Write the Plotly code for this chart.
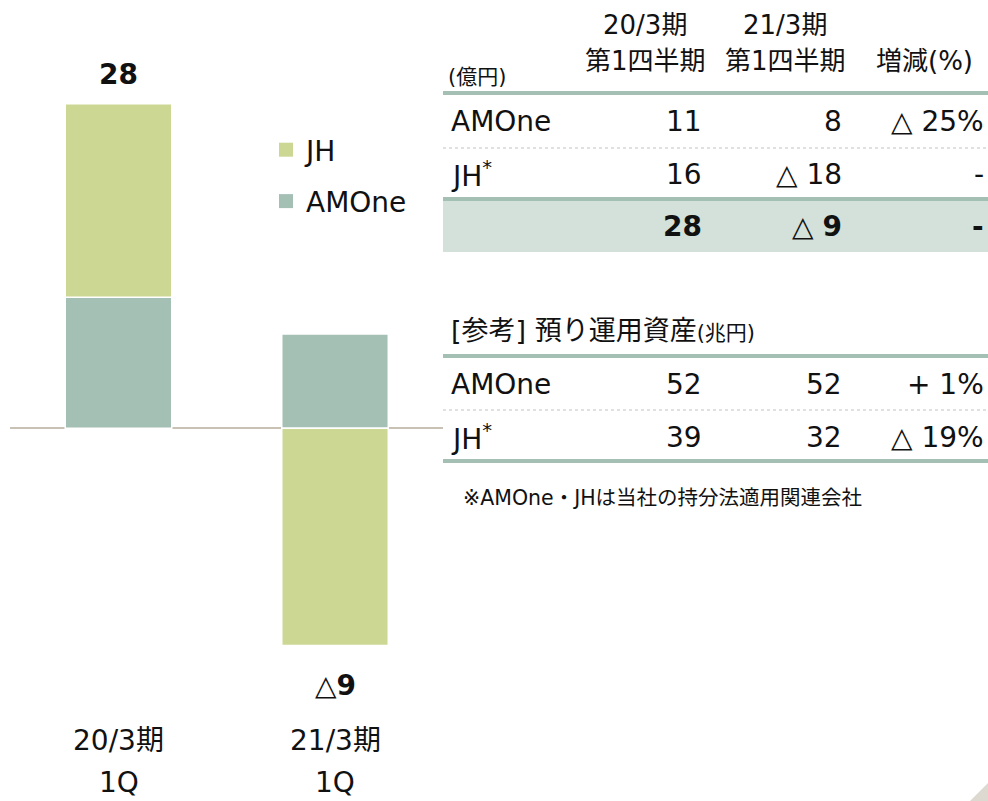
import plotly.graph_objects as go

# ---------------- data ----------------
categories = ["20/3期 1Q", "21/3期 1Q"]
period_labels = ["20/3期", "21/3期"]
quarter_labels = ["1Q", "1Q"]
amone_profit = [11.1, 8.0]
jh_profit = [16.4, -18.4]
total_labels = ["<b>28</b>", "△<b>9</b>"]

table_head_line1 = ["20/3期", "21/3期", ""]
table_head_line2 = ["第1四半期", "第1四半期", "増減(%)"]
profit_rows = ["AMOne", "JH<sup>*</sup>"]
profit_prev = ["11", "16"]
profit_curr = ["8", "△ 18"]
profit_chg = ["△ 25%", "-"]
total_row = ["<b>28</b>", "△ <b>9</b>", "<b>-</b>"]

aum_rows = ["AMOne", "JH<sup>*</sup>"]
aum_prev = ["52", "39"]
aum_curr = ["52", "32"]
aum_chg = ["+ 1%", "△ 19%"]

unit_profit = "(億円)"
aum_title = "[参考] 預り運用資産"
unit_aum = "(兆円)"
footnote = "※AMOne・JHは当社の持分法適用関連会社"

# ---------------- style ----------------
W, H = 988, 801
FONT = "DejaVu Sans, Noto Sans CJK JP, sans-serif"
C_JH = "#cdd794"
C_AM = "#a4bfb3"
C_ROW = "#d3e1da"
C_ZERO = "#c9c1b4"
TXT = "#111111"


def px(x):
    return x / W


def py(y):
    return 1 - y / H


fig = go.Figure()
fig.add_trace(go.Bar(x=categories, y=amone_profit, name="AMOne", marker_color=C_AM,
                     marker_line=dict(color="white", width=1.5), width=0.492,
                     showlegend=False))
fig.add_trace(go.Bar(x=categories, y=jh_profit, name="JH", marker_color=C_JH,
                     marker_line=dict(color="white", width=1.5), width=0.492,
                     showlegend=False))
# legend entries (square swatches)
for k, (name, col) in enumerate((("JH", C_JH), ("AMOne", C_AM))):
    fig.add_trace(go.Scatter(x=[None], y=[None], mode="markers", name=name,
                             marker=dict(symbol="square", size=14, color=col),
                             legendgroup=f"g{k}", legendrank=k + 1,
                             showlegend=True, hoverinfo="skip"))

# total labels and category labels
for i, c in enumerate(categories):
    pos = sum(v for v in (amone_profit[i], jh_profit[i]) if v > 0)
    neg = sum(v for v in (amone_profit[i], jh_profit[i]) if v < 0)
    tot = amone_profit[i] + jh_profit[i]
    if tot >= 0:
        fig.add_annotation(x=c, y=pos, xref="x", yref="y", text=total_labels[i],
                           showarrow=False, yshift=29, yanchor="middle",
                           font=dict(size=28, color=TXT, family=FONT))
    else:
        fig.add_annotation(x=c, y=neg, xref="x", yref="y", text=total_labels[i],
                           showarrow=False, yshift=-40, yanchor="middle",
                           font=dict(size=28, color=TXT, family=FONT))
    fig.add_annotation(x=c, y=py(740), xref="x", yref="paper", text=period_labels[i],
                       showarrow=False, yanchor="middle",
                       font=dict(size=28, color=TXT, family=FONT))
    fig.add_annotation(x=c, y=py(782), xref="x", yref="paper", text=quarter_labels[i],
                       showarrow=False, yanchor="middle",
                       font=dict(size=28, color=TXT, family=FONT))

# ---------------- table ----------------
col_right = [704, 844, 986]
col_center = [645, 785, 924]


def txt(x, y, s, size=28, anchor="left"):
    fig.add_annotation(x=px(x), y=py(y), xref="paper", yref="paper", text=s,
                       showarrow=False, xanchor=anchor, yanchor="middle",
                       font=dict(size=size, color=TXT, family=FONT))


def hline(y, width=4, color=C_AM, dash="solid"):
    fig.add_shape(type="line", xref="paper", yref="paper", x0=px(443), x1=px(988),
                  y0=py(y), y1=py(y), line=dict(color=color, width=width, dash=dash))


# shaded total row
fig.add_shape(type="rect", xref="paper", yref="paper", x0=px(443), x1=px(988),
              y0=py(252), y1=py(199), fillcolor=C_ROW, line=dict(width=0), layer="below")

for j in range(3):
    if table_head_line1[j]:
        txt(col_center[j], 25, table_head_line1[j], 26, "center")
    txt(col_center[j], 61, table_head_line2[j], 26, "center")
txt(446, 77, unit_profit, 21)
hline(93)
hline(148, 1, "#bfc4c0", "dot")
hline(199)

rows_y = [121, 175]
for i in range(2):
    txt(449, rows_y[i], profit_rows[i])
    txt(col_right[0], rows_y[i], profit_prev[i], anchor="right")
    txt(col_right[1], rows_y[i], profit_curr[i], anchor="right")
    txt(col_right[2], rows_y[i], profit_chg[i], anchor="right")
for j in range(3):
    txt(col_right[j], 226, total_row[j], anchor="right")

txt(449, 330, aum_title + "<span style='font-size:21px'>" + unit_aum + "</span>", 27)
hline(356)
hline(410, 1, "#bfc4c0", "dot")
hline(461)
rows_y2 = [384, 437]
for i in range(2):
    txt(449, rows_y2[i], aum_rows[i])
    txt(col_right[0], rows_y2[i], aum_prev[i], anchor="right")
    txt(col_right[1], rows_y2[i], aum_curr[i], anchor="right")
    txt(col_right[2], rows_y2[i], aum_chg[i], anchor="right")

txt(461, 498, footnote, 20.5)

# corner decoration
fig.add_shape(type="path", xref="paper", yref="paper",
              path=f"M {px(970)} {py(801)} L {px(988)} {py(801)} L {px(988)} {py(783)} Z",
              fillcolor="#ddd9d1", line=dict(width=0))

# ---------------- layout ----------------
y_zero = 428.3
scale = 11.8
fig.update_layout(
    width=W, height=H,
    margin=dict(l=0, r=0, t=0, b=0),
    paper_bgcolor="white", plot_bgcolor="white",
    barmode="relative",
    font=dict(family=FONT, size=28, color=TXT),
    showlegend=True,
    legend=dict(x=px(266), y=py(125), xanchor="left", yanchor="top",
                traceorder="grouped", tracegroupgap=12,
                font=dict(size=28, color=TXT, family=FONT),
                bgcolor="rgba(0,0,0,0)", borderwidth=0),
    xaxis=dict(domain=[px(10), px(443)], range=[-0.5012, 1.4988],
               showticklabels=False, showgrid=False, zeroline=False, showline=False,
               fixedrange=True),
    yaxis=dict(domain=[0, 1], range=[-(H - y_zero) / scale, y_zero / scale],
               showticklabels=False, showgrid=False, zeroline=True,
               zerolinecolor=C_ZERO, zerolinewidth=2, showline=False,
               layer="above traces", fixedrange=True),
)

fig.write_html("out.html",
               config={"displayModeBar": False},
               post_script="document.body.style.margin='0';"
                           "document.body.style.overflow='hidden';")
